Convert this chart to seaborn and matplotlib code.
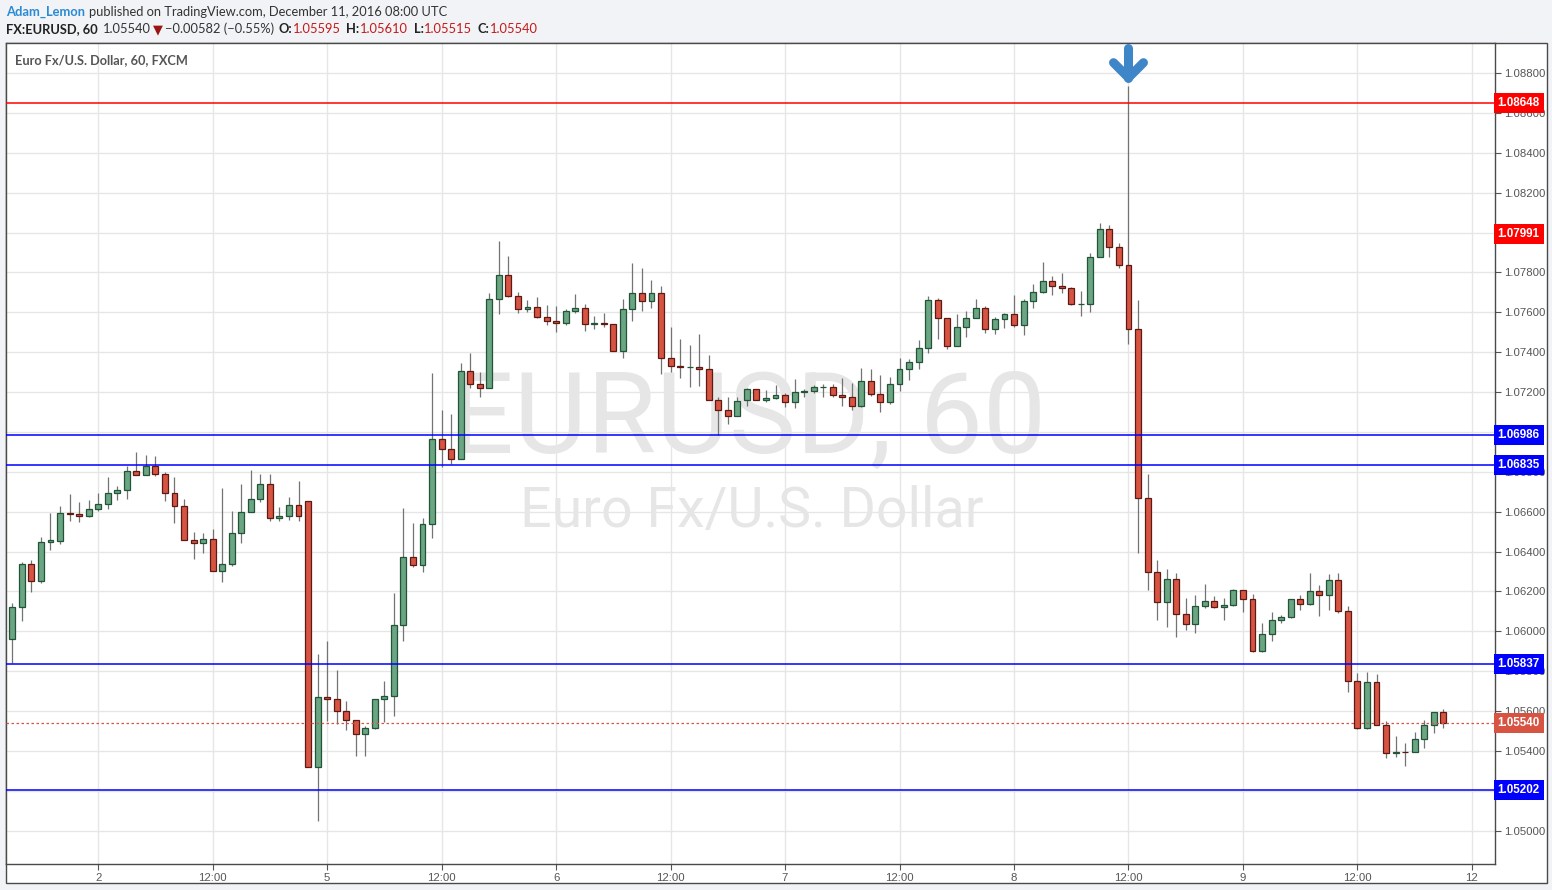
import numpy as np
import pandas as pd
import seaborn as sns
import matplotlib
matplotlib.use("Agg")
import matplotlib.pyplot as plt
from matplotlib.patches import Rectangle

sns.set_theme(style="white")
plt.rcParams['font.family'] = ['Liberation Sans', 'DejaVu Sans']

# ---------------- data (EURUSD, 60 min, FXCM) ----------------
opens = [1.0596, 1.0612, 1.0634, 1.0625, 1.0645, 1.06455, 1.06595, 1.0659, 1.0658, 1.06615,
         1.0664, 1.06695, 1.0671, 1.06805, 1.06785, 1.0683, 1.0679, 1.06695, 1.0663, 1.0646,
         1.06445, 1.06465, 1.063, 1.0634, 1.06495, 1.066, 1.06661, 1.0674, 1.0657, 1.0658,
         1.06631, 1.06651, 1.05319, 1.05671, 1.0566, 1.05601, 1.05554, 1.05484, 1.05514, 1.0566,
         1.05675, 1.0603, 1.06371, 1.0633, 1.0654, 1.06966, 1.06915, 1.06866, 1.07306, 1.0724,
         1.07222, 1.07667, 1.07787, 1.07682, 1.07617, 1.07627, 1.07577, 1.07557, 1.07547, 1.07607,
         1.0762, 1.07542, 1.07545, 1.07542, 1.07407, 1.07617, 1.07697, 1.07657, 1.07697, 1.07372,
         1.07332, 1.07325, 1.07327, 1.07317, 1.07162, 1.07112, 1.07082, 1.07158, 1.07213, 1.07158,
         1.0717, 1.07183, 1.07148, 1.07198, 1.07203, 1.07223, 1.07225, 1.07183, 1.07173, 1.07128,
         1.07253, 1.07188, 1.07148, 1.07238, 1.07313, 1.07353, 1.07423, 1.07663, 1.07573, 1.07433,
         1.07528, 1.07573, 1.07623, 1.07518, 1.07568, 1.07589, 1.07538, 1.07659, 1.07704, 1.07759,
         1.07734, 1.07724, 1.07639, 1.0764, 1.07879, 1.0802, 1.07929, 1.07839, 1.07515, 1.06671,
         1.06297, 1.06147, 1.06262, 1.06087, 1.06037, 1.06127, 1.06152, 1.06122, 1.06132, 1.06207,
         1.06162, 1.05902, 1.05987, 1.06057, 1.06072, 1.06162, 1.06137, 1.06202, 1.06182, 1.06257,
         1.06102, 1.05752, 1.05516, 1.05747, 1.05531, 1.05391, 1.05395, 1.05393, 1.05461, 1.05531,
         1.05595]
highs = [1.0614, 1.06347, 1.06357, 1.06472, 1.06592, 1.06627, 1.06687, 1.06647, 1.0666, 1.06692,
         1.06772, 1.06727, 1.06827, 1.06897, 1.06882, 1.06877, 1.068, 1.06772, 1.06665, 1.06497,
         1.06492, 1.06512, 1.06717, 1.06603, 1.06737, 1.06808, 1.06787, 1.06787, 1.06625, 1.06672,
         1.06753, 1.06651, 1.05887, 1.05951, 1.05806, 1.05652, 1.05554, 1.05524, 1.0566, 1.05752,
         1.06192, 1.06617, 1.06542, 1.0657, 1.07293, 1.07111, 1.07088, 1.07348, 1.07397, 1.07301,
         1.07698, 1.07958, 1.07883, 1.07703, 1.07663, 1.07678, 1.07638, 1.07632, 1.07618, 1.07693,
         1.07643, 1.07583, 1.07598, 1.07542, 1.07668, 1.07848, 1.07823, 1.07763, 1.07733, 1.07528,
         1.07468, 1.07438, 1.07493, 1.07388, 1.07173, 1.07173, 1.07173, 1.07218, 1.07213, 1.0721,
         1.07233, 1.07197, 1.07265, 1.07213, 1.07233, 1.07238, 1.07238, 1.07268, 1.07243, 1.07323,
         1.07318, 1.07283, 1.07273, 1.07373, 1.07368, 1.07463, 1.0768, 1.07673, 1.07573, 1.0759,
         1.07605, 1.07668, 1.07633, 1.07578, 1.07597, 1.07689, 1.07665, 1.07741, 1.07851, 1.07781,
         1.07796, 1.07729, 1.07706, 1.07898, 1.0805, 1.0804, 1.07949, 1.08733, 1.0766, 1.06788,
         1.06358, 1.06313, 1.06293, 1.06168, 1.06183, 1.06238, 1.06178, 1.06168, 1.06213, 1.06207,
         1.06188, 1.06043, 1.06098, 1.06082, 1.06162, 1.06182, 1.06293, 1.06232, 1.06287, 1.06293,
         1.06127, 1.05792, 1.05798, 1.05787, 1.05551, 1.05476, 1.05441, 1.05496, 1.05556, 1.05596,
         1.0561]
lows = [1.0584, 1.06053, 1.06198, 1.06243, 1.06408, 1.06438, 1.06553, 1.06548, 1.06573, 1.06603,
        1.06613, 1.06658, 1.06663, 1.06783, 1.06783, 1.06778, 1.06653, 1.06543, 1.0646, 1.06363,
        1.06393, 1.063, 1.06248, 1.06328, 1.06443, 1.06598, 1.06649, 1.06555, 1.06553, 1.06559,
        1.06553, 1.05319, 1.05048, 1.05552, 1.05533, 1.05503, 1.05373, 1.05373, 1.05511, 1.05545,
        1.05573, 1.05953, 1.06324, 1.06298, 1.06467, 1.06823, 1.06841, 1.06866, 1.0722, 1.07175,
        1.07222, 1.07592, 1.07675, 1.07597, 1.076, 1.0757, 1.07535, 1.075, 1.07535, 1.07595,
        1.07505, 1.07515, 1.07525, 1.07407, 1.0737, 1.07555, 1.07608, 1.07623, 1.0729, 1.073,
        1.0727, 1.07225, 1.0723, 1.07162, 1.06983, 1.0704, 1.07082, 1.07132, 1.07158, 1.07152,
        1.07165, 1.07127, 1.07122, 1.07173, 1.07193, 1.07177, 1.07173, 1.07132, 1.07108, 1.07123,
        1.07178, 1.07098, 1.07138, 1.07203, 1.07258, 1.07313, 1.07398, 1.07468, 1.07418, 1.07433,
        1.07478, 1.07573, 1.07498, 1.07492, 1.07522, 1.07527, 1.07487, 1.07622, 1.07699, 1.07687,
        1.07699, 1.07634, 1.07582, 1.07602, 1.07879, 1.07879, 1.07824, 1.07441, 1.06394, 1.06205,
        1.06058, 1.0602, 1.0597, 1.06008, 1.0599, 1.06115, 1.06115, 1.06055, 1.06125, 1.06095,
        1.05895, 1.05895, 1.0595, 1.0604, 1.06065, 1.06105, 1.06132, 1.06075, 1.06105, 1.06092,
        1.05695, 1.05511, 1.05511, 1.05531, 1.05365, 1.0537, 1.05325, 1.05393, 1.05416, 1.0549,
        1.05515]
closes = [1.0612, 1.0634, 1.0625, 1.0645, 1.06457, 1.06595, 1.0659, 1.0658, 1.06615, 1.0664,
          1.06695, 1.0671, 1.06805, 1.06785, 1.0683, 1.0679, 1.06695, 1.0663, 1.0646, 1.06445,
          1.06465, 1.063, 1.0634, 1.06495, 1.066, 1.06661, 1.0674, 1.0657, 1.0658, 1.06631,
          1.0658, 1.05319, 1.05671, 1.0566, 1.05601, 1.05554, 1.05484, 1.05514, 1.0566, 1.05675,
          1.0603, 1.06371, 1.0633, 1.0654, 1.06966, 1.06915, 1.06866, 1.07306, 1.0724, 1.07222,
          1.07666, 1.07787, 1.07682, 1.07617, 1.07627, 1.07577, 1.07557, 1.07547, 1.07607, 1.0762,
          1.07542, 1.07545, 1.07543, 1.07407, 1.07617, 1.07697, 1.07657, 1.07697, 1.07372, 1.07332,
          1.07325, 1.07327, 1.07317, 1.07162, 1.07112, 1.07082, 1.07157, 1.07213, 1.07158, 1.0717,
          1.07183, 1.07148, 1.07198, 1.07203, 1.07223, 1.07225, 1.07183, 1.07173, 1.07128, 1.07253,
          1.07188, 1.07148, 1.07238, 1.07313, 1.07353, 1.07423, 1.07663, 1.07573, 1.07433, 1.07528,
          1.07573, 1.07623, 1.07518, 1.07568, 1.07589, 1.07538, 1.07659, 1.07704, 1.07759, 1.07734,
          1.07724, 1.07639, 1.0764, 1.07879, 1.0802, 1.07929, 1.07839, 1.07515, 1.06671, 1.06297,
          1.06147, 1.06262, 1.06087, 1.06037, 1.06127, 1.06152, 1.06122, 1.06132, 1.06207, 1.06162,
          1.05902, 1.05987, 1.06057, 1.06072, 1.06162, 1.06137, 1.06202, 1.06182, 1.06257, 1.06102,
          1.05752, 1.05516, 1.05747, 1.05531, 1.05391, 1.05395, 1.05393, 1.05461, 1.05531, 1.05595,
          1.0554]

tick_positions = [9, 21, 33, 45, 57, 69, 81, 93, 105, 117, 129, 141, 153]
tick_labels = ['2', '12:00', '5', '12:00', '6', '12:00', '7', '12:00', '8', '12:00', '9', '12:00', '12']
price_ticks = [1.050, 1.052, 1.054, 1.056, 1.058, 1.060, 1.062, 1.064, 1.066, 1.068,
               1.070, 1.072, 1.074, 1.076, 1.078, 1.080, 1.082, 1.084, 1.086, 1.088]

level_prices = [1.08648, 1.06986, 1.06835, 1.05837, 1.05202]
level_colors = ['#ff0000', '#0000ff', '#0000ff', '#0000ff', '#0000ff']
marker_label_price = 1.07991
last_price = 1.05540

df = pd.DataFrame({'open': opens, 'high': highs, 'low': lows, 'close': closes})
df['idx'] = np.arange(len(df))

# ---------------- figure layout ----------------
W, H = 1552, 890
fig = plt.figure(figsize=(W / 100, H / 100), dpi=100)
fig.patch.set_facecolor('#f1f3f6')

def fx(px):
    return px / W

def fy(py):
    return 1 - py / H

frame = Rectangle((fx(6.3), fy(883)), fx(1546.7) - fx(6.3), fy(43.3) - fy(883),
                  transform=fig.transFigure, facecolor='white', edgecolor='#4a4a4a',
                  lw=1.0, zorder=-5)
fig.patches.append(frame)

ax_l, ax_r, ax_t, ax_b = 6.3, 1495.3, 43.3, 863.7
ax = fig.add_axes([fx(ax_l), fy(ax_b), fx(ax_r) - fx(ax_l), fy(ax_t) - fy(ax_b)])
ax.set_zorder(2)
ax.set_facecolor('white')

def axx(px):
    return (px - ax_l) / (ax_r - ax_l)

def axy(py):
    return (ax_b - py) / (ax_b - ax_t)

# ---------------- candles ----------------
up = df['close'] >= df['open']
fills = np.where(up, '#6ba583', '#d75442')
edges = np.where(up, '#225437', '#5b1a13')
body_bottom = np.minimum(df['open'], df['close'])
body_height = np.maximum(np.abs(df['close'] - df['open']), 0.00002)

ax.vlines(df['idx'], df['low'], df['high'], color='#737373', lw=0.9, zorder=2)
ax.bar(df['idx'], body_height, bottom=body_bottom, width=0.62, color=fills,
       edgecolor=edges, linewidth=0.9, zorder=3)

ax.set_xlim(-0.63, 155.45)
ax.set_ylim(1.048344, 1.08949)

# right-side price labels (which hide the tick labels they cover)
label_items = list(zip(level_prices, level_colors)) + [(marker_label_price, '#ff0000'),
                                                       (last_price, '#d75442')]
covered = [any(abs(p - lp) < 0.00025 for lp, _ in label_items) for p in price_ticks]

# grid & ticks
ax.set_yticks(price_ticks)
ax.set_yticklabels(['' if cov else f'{p:.5f}' for p, cov in zip(price_ticks, covered)])
ax.set_xticks(tick_positions)
ax.set_xticklabels(tick_labels)
ax.grid(True, color='#e6e6e6', lw=1)
ax.set_axisbelow(True)
ax.yaxis.tick_right()
ax.tick_params(axis='y', direction='out', length=4, width=0.8, color='#555555',
               labelsize=8.2, labelcolor='#555555', pad=2, right=True, left=False)
ax.tick_params(axis='x', direction='out', length=4, width=0.8, color='#555555',
               labelsize=8.2, labelcolor='#555555', pad=2.5, bottom=True)
for s in ax.spines.values():
    s.set_color('#4a4a4a')
    s.set_linewidth(1.0)
    s.set_visible(True)

# watermark (behind candles)
ax.text(axx(748), axy(422), 'EURUSD, 60', transform=ax.transAxes, ha='center', va='center',
        fontsize=81, color='#e6e6e6', family=['Roboto', 'DejaVu Sans'], zorder=1)
ax.text(axx(752), axy(511), 'Euro Fx/U.S. Dollar', transform=ax.transAxes, ha='center',
        va='center', fontsize=40, color='#e6e6e6', family=['Roboto', 'DejaVu Sans'], zorder=1)

# horizontal levels
for p, c in zip(level_prices, level_colors):
    ax.axhline(p, color=c, lw=1.1, zorder=4)
ax.axhline(last_price, color='#d75442', lw=0.9, ls=(0, (2, 2)), zorder=4)

ytr = ax.get_yaxis_transform()
for p, c in label_items:
    ax.text(1.0016, p, f'{p:.5f}', transform=ytr, ha='left', va='center', color='white',
            fontsize=8.4, fontweight='bold', clip_on=False, zorder=6,
            bbox=dict(boxstyle='square,pad=0.34', fc=c, ec='none'))

# blue arrow above the spike
spike = int(np.argmax(df['high']))
hi = df['high'][spike]
ppx = (1.08949 - 1.048344) / (ax_b - ax_t)  # price per pixel
tip = hi + 8.7 * ppx
arm = tip + 15 * ppx
top = tip + 30 * ppx
arrow_c = '#3f86c8'
ax.plot([spike, spike], [tip, top], color=arrow_c, lw=6.5, solid_capstyle='round',
        clip_on=False, zorder=7)
ax.plot([spike - 1.57, spike, spike + 1.57], [arm, tip, arm], color=arrow_c, lw=6.5,
        solid_capstyle='round', solid_joinstyle='round', clip_on=False, zorder=7)

# header + inner title
renderer = fig.canvas.get_renderer()
hfam = ['Lato', 'DejaVu Sans']

fig.text(fx(15), fy(60), 'Euro Fx/U.S. Dollar, 60, FXCM', ha='left', va='center',
         fontsize=9.2, fontweight='bold', color='#555555', family=hfam)

def seq(pieces, x0, y, size=9.3):
    x = x0
    for s, color, weight, gap in pieces:
        t = fig.text(fx(x), fy(y), s, color=color, fontweight=weight, fontsize=size,
                     family=hfam, va='center', ha='left')
        bb = t.get_window_extent(renderer)
        x += bb.width + gap

seq([('Adam_Lemon', '#2a8ad4', 'bold', 4),
     ('published on TradingView.com, December 11, 2016 08:00 UTC', '#333333', 'normal', 0)],
    6, 12)
red = '#c41a1a'
seq([('FX:EURUSD, 60', '#222222', 'bold', 5),
     ('1.05540', '#333333', 'normal', 2),
     ('\u25BC', '#9b1414', 'normal', 2),
     ('\u22120.00582 (\u22120.55%)', '#333333', 'normal', 5),
     ('O:', '#222222', 'bold', 0),
     ('1.05595', red, 'normal', 6),
     ('H:', '#222222', 'bold', 0),
     ('1.05610', red, 'normal', 6),
     ('L:', '#222222', 'bold', 0),
     ('1.05515', red, 'normal', 6),
     ('C:', '#222222', 'bold', 0),
     ('1.05540', red, 'normal', 0)],
    6, 29)

fig.savefig('out.png', dpi=100)
